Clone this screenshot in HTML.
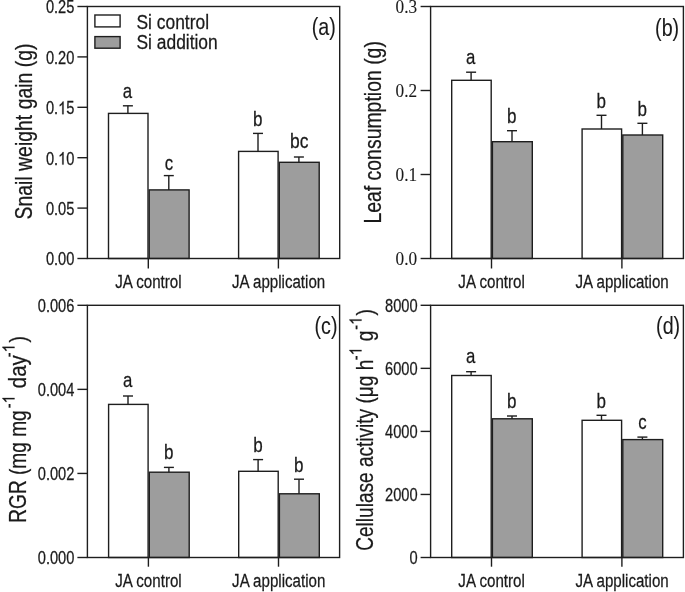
<!DOCTYPE html>
<html><head><meta charset="utf-8"><style>
html,body{margin:0;padding:0;background:#fff;overflow:hidden}
svg{display:block;filter:blur(0.3px)}
text{stroke:#1a1a1a;stroke-width:0.25px}
.g1{fill:#1a1a1a;stroke:#1a1a1a;stroke-width:0.25px;vector-effect:non-scaling-stroke}
text{fill:#1a1a1a}
</style></head><body>
<svg width="685" height="592" viewBox="0 0 685 592">
<rect width="685" height="592" fill="#fff"/>
<rect x="108.50" y="113.40" width="39.50" height="145.10" fill="white" stroke="#1e1e1e" stroke-width="1.4"/>
<line x1="127.90" y1="113.40" x2="127.90" y2="105.80" stroke="#1e1e1e" stroke-width="1.4"/>
<line x1="122.90" y1="105.80" x2="132.90" y2="105.80" stroke="#1e1e1e" stroke-width="1.4"/>
<text transform="translate(127.50,97.60) scale(0.82,1)" font-family='"Liberation Sans", sans-serif' font-size="20.5" text-anchor="middle">a</text>
<rect x="149.20" y="189.90" width="39.90" height="68.60" fill="#9d9d9d" stroke="#1e1e1e" stroke-width="1.4"/>
<line x1="168.80" y1="189.90" x2="168.80" y2="175.60" stroke="#1e1e1e" stroke-width="1.4"/>
<line x1="163.80" y1="175.60" x2="173.80" y2="175.60" stroke="#1e1e1e" stroke-width="1.4"/>
<text transform="translate(168.90,169.60) scale(0.82,1)" font-family='"Liberation Sans", sans-serif' font-size="20.5" text-anchor="middle">c</text>
<rect x="238.60" y="151.40" width="39.50" height="107.10" fill="white" stroke="#1e1e1e" stroke-width="1.4"/>
<line x1="258.00" y1="151.40" x2="258.00" y2="133.40" stroke="#1e1e1e" stroke-width="1.4"/>
<line x1="253.00" y1="133.40" x2="263.00" y2="133.40" stroke="#1e1e1e" stroke-width="1.4"/>
<text transform="translate(257.80,125.80) scale(0.82,1)" font-family='"Liberation Sans", sans-serif' font-size="20.8" text-anchor="middle">b</text>
<rect x="279.30" y="162.30" width="39.90" height="96.20" fill="#9d9d9d" stroke="#1e1e1e" stroke-width="1.4"/>
<line x1="298.90" y1="162.30" x2="298.90" y2="157.00" stroke="#1e1e1e" stroke-width="1.4"/>
<line x1="293.90" y1="157.00" x2="303.90" y2="157.00" stroke="#1e1e1e" stroke-width="1.4"/>
<text transform="translate(299.20,148.00) scale(0.86,1)" font-family='"Liberation Sans", sans-serif' font-size="20.3" text-anchor="middle">bc</text>
<rect x="87.40" y="6.50" width="252.30" height="252.00" fill="none" stroke="#1e1e1e" stroke-width="1.4"/>
<line x1="77.40" y1="258.50" x2="87.40" y2="258.50" stroke="#1e1e1e" stroke-width="1.4"/>
<text transform="translate(74.40,265.40) scale(0.8,1)" font-family='"Liberation Sans", sans-serif' font-size="18.3" text-anchor="end">0.00</text>
<line x1="77.40" y1="208.10" x2="87.40" y2="208.10" stroke="#1e1e1e" stroke-width="1.4"/>
<text transform="translate(74.40,215.00) scale(0.8,1)" font-family='"Liberation Sans", sans-serif' font-size="18.3" text-anchor="end">0.05</text>
<line x1="77.40" y1="157.70" x2="87.40" y2="157.70" stroke="#1e1e1e" stroke-width="1.4"/>
<text transform="translate(74.40,164.60) scale(0.8,1)" font-family='"Liberation Sans", sans-serif' font-size="18.3" text-anchor="end">0. 0</text>
<path transform="translate(74.40,164.60) scale(0.8,1) translate(-20.355,0) scale(0.00894,-0.00894)" d="M763 0H583V1102Q518 1043 412 983Q307 924 223 894V1061Q374 1129 487 1226Q600 1323 647 1409H763Z" class="g1"/>
<line x1="77.40" y1="107.30" x2="87.40" y2="107.30" stroke="#1e1e1e" stroke-width="1.4"/>
<text transform="translate(74.40,114.20) scale(0.8,1)" font-family='"Liberation Sans", sans-serif' font-size="18.3" text-anchor="end">0. 5</text>
<path transform="translate(74.40,114.20) scale(0.8,1) translate(-20.355,0) scale(0.00894,-0.00894)" d="M763 0H583V1102Q518 1043 412 983Q307 924 223 894V1061Q374 1129 487 1226Q600 1323 647 1409H763Z" class="g1"/>
<line x1="77.40" y1="56.90" x2="87.40" y2="56.90" stroke="#1e1e1e" stroke-width="1.4"/>
<text transform="translate(74.40,63.80) scale(0.8,1)" font-family='"Liberation Sans", sans-serif' font-size="18.3" text-anchor="end">0.20</text>
<line x1="77.40" y1="6.50" x2="87.40" y2="6.50" stroke="#1e1e1e" stroke-width="1.4"/>
<text transform="translate(74.40,13.40) scale(0.8,1)" font-family='"Liberation Sans", sans-serif' font-size="18.3" text-anchor="end">0.25</text>
<line x1="148.30" y1="258.50" x2="148.30" y2="268.50" stroke="#1e1e1e" stroke-width="1.4"/>
<line x1="278.40" y1="258.50" x2="278.40" y2="268.50" stroke="#1e1e1e" stroke-width="1.4"/>
<text transform="translate(148.40,288.10) scale(0.851,1)" font-family='"Liberation Sans", sans-serif' font-size="17.8" text-anchor="middle">JA control</text>
<text transform="translate(278.60,288.10) scale(0.849,1)" font-family='"Liberation Sans", sans-serif' font-size="17.8" text-anchor="middle">JA application</text>
<text transform="translate(311.70,34.60) scale(0.82,1)" font-family='"Liberation Sans", sans-serif' font-size="24" text-anchor="start" style="stroke-width:0.1px">(a)</text>
<rect x="451.70" y="80.30" width="39.50" height="178.20" fill="white" stroke="#1e1e1e" stroke-width="1.4"/>
<line x1="471.10" y1="80.30" x2="471.10" y2="72.20" stroke="#1e1e1e" stroke-width="1.4"/>
<line x1="466.10" y1="72.20" x2="476.10" y2="72.20" stroke="#1e1e1e" stroke-width="1.4"/>
<text transform="translate(470.70,63.70) scale(0.82,1)" font-family='"Liberation Sans", sans-serif' font-size="20.5" text-anchor="middle">a</text>
<rect x="492.40" y="141.70" width="39.90" height="116.80" fill="#9d9d9d" stroke="#1e1e1e" stroke-width="1.4"/>
<line x1="512.00" y1="141.70" x2="512.00" y2="130.70" stroke="#1e1e1e" stroke-width="1.4"/>
<line x1="507.00" y1="130.70" x2="517.00" y2="130.70" stroke="#1e1e1e" stroke-width="1.4"/>
<text transform="translate(511.80,122.60) scale(0.82,1)" font-family='"Liberation Sans", sans-serif' font-size="20.8" text-anchor="middle">b</text>
<rect x="582.10" y="129.00" width="39.50" height="129.50" fill="white" stroke="#1e1e1e" stroke-width="1.4"/>
<line x1="601.50" y1="129.00" x2="601.50" y2="115.30" stroke="#1e1e1e" stroke-width="1.4"/>
<line x1="596.50" y1="115.30" x2="606.50" y2="115.30" stroke="#1e1e1e" stroke-width="1.4"/>
<text transform="translate(601.30,107.60) scale(0.82,1)" font-family='"Liberation Sans", sans-serif' font-size="20.8" text-anchor="middle">b</text>
<rect x="622.80" y="135.00" width="39.90" height="123.50" fill="#9d9d9d" stroke="#1e1e1e" stroke-width="1.4"/>
<line x1="642.40" y1="135.00" x2="642.40" y2="123.30" stroke="#1e1e1e" stroke-width="1.4"/>
<line x1="637.40" y1="123.30" x2="647.40" y2="123.30" stroke="#1e1e1e" stroke-width="1.4"/>
<text transform="translate(642.20,116.00) scale(0.82,1)" font-family='"Liberation Sans", sans-serif' font-size="20.8" text-anchor="middle">b</text>
<rect x="430.60" y="6.50" width="252.80" height="252.00" fill="none" stroke="#1e1e1e" stroke-width="1.4"/>
<line x1="420.60" y1="258.50" x2="430.60" y2="258.50" stroke="#1e1e1e" stroke-width="1.4"/>
<text transform="translate(417.10,264.90) scale(0.96,1)" font-family='"Liberation Serif", serif' font-size="18.0" text-anchor="end" style="stroke-width:0.1px">0.0</text>
<line x1="420.60" y1="174.50" x2="430.60" y2="174.50" stroke="#1e1e1e" stroke-width="1.4"/>
<text transform="translate(417.10,180.90) scale(0.96,1)" font-family='"Liberation Serif", serif' font-size="18.0" text-anchor="end" style="stroke-width:0.1px">0.1</text>
<line x1="420.60" y1="90.50" x2="430.60" y2="90.50" stroke="#1e1e1e" stroke-width="1.4"/>
<text transform="translate(417.10,96.90) scale(0.96,1)" font-family='"Liberation Serif", serif' font-size="18.0" text-anchor="end" style="stroke-width:0.1px">0.2</text>
<line x1="420.60" y1="6.50" x2="430.60" y2="6.50" stroke="#1e1e1e" stroke-width="1.4"/>
<text transform="translate(417.10,12.90) scale(0.96,1)" font-family='"Liberation Serif", serif' font-size="18.0" text-anchor="end" style="stroke-width:0.1px">0.3</text>
<line x1="491.50" y1="258.50" x2="491.50" y2="268.50" stroke="#1e1e1e" stroke-width="1.4"/>
<line x1="621.90" y1="258.50" x2="621.90" y2="268.50" stroke="#1e1e1e" stroke-width="1.4"/>
<text transform="translate(491.60,288.10) scale(0.851,1)" font-family='"Liberation Sans", sans-serif' font-size="17.8" text-anchor="middle">JA control</text>
<text transform="translate(622.10,288.10) scale(0.849,1)" font-family='"Liberation Sans", sans-serif' font-size="17.8" text-anchor="middle">JA application</text>
<text transform="translate(655.10,35.80) scale(0.82,1)" font-family='"Liberation Sans", sans-serif' font-size="24" text-anchor="start" style="stroke-width:0.1px">(b)</text>
<rect x="108.60" y="404.40" width="39.50" height="153.10" fill="white" stroke="#1e1e1e" stroke-width="1.4"/>
<line x1="128.00" y1="404.40" x2="128.00" y2="396.00" stroke="#1e1e1e" stroke-width="1.4"/>
<line x1="123.00" y1="396.00" x2="133.00" y2="396.00" stroke="#1e1e1e" stroke-width="1.4"/>
<text transform="translate(127.60,387.10) scale(0.82,1)" font-family='"Liberation Sans", sans-serif' font-size="20.5" text-anchor="middle">a</text>
<rect x="149.30" y="472.20" width="39.90" height="85.30" fill="#9d9d9d" stroke="#1e1e1e" stroke-width="1.4"/>
<line x1="168.90" y1="472.20" x2="168.90" y2="467.40" stroke="#1e1e1e" stroke-width="1.4"/>
<line x1="163.90" y1="467.40" x2="173.90" y2="467.40" stroke="#1e1e1e" stroke-width="1.4"/>
<text transform="translate(168.70,459.20) scale(0.82,1)" font-family='"Liberation Sans", sans-serif' font-size="20.8" text-anchor="middle">b</text>
<rect x="238.70" y="471.30" width="39.50" height="86.20" fill="white" stroke="#1e1e1e" stroke-width="1.4"/>
<line x1="258.10" y1="471.30" x2="258.10" y2="459.60" stroke="#1e1e1e" stroke-width="1.4"/>
<line x1="253.10" y1="459.60" x2="263.10" y2="459.60" stroke="#1e1e1e" stroke-width="1.4"/>
<text transform="translate(257.90,452.30) scale(0.82,1)" font-family='"Liberation Sans", sans-serif' font-size="20.8" text-anchor="middle">b</text>
<rect x="279.40" y="493.80" width="39.90" height="63.70" fill="#9d9d9d" stroke="#1e1e1e" stroke-width="1.4"/>
<line x1="299.00" y1="493.80" x2="299.00" y2="479.20" stroke="#1e1e1e" stroke-width="1.4"/>
<line x1="294.00" y1="479.20" x2="304.00" y2="479.20" stroke="#1e1e1e" stroke-width="1.4"/>
<text transform="translate(298.80,471.60) scale(0.82,1)" font-family='"Liberation Sans", sans-serif' font-size="20.8" text-anchor="middle">b</text>
<rect x="87.40" y="305.30" width="252.20" height="252.20" fill="none" stroke="#1e1e1e" stroke-width="1.4"/>
<line x1="77.40" y1="557.50" x2="87.40" y2="557.50" stroke="#1e1e1e" stroke-width="1.4"/>
<text transform="translate(74.40,564.40) scale(0.8,1)" font-family='"Liberation Sans", sans-serif' font-size="18.3" text-anchor="end">0.000</text>
<line x1="77.40" y1="473.43" x2="87.40" y2="473.43" stroke="#1e1e1e" stroke-width="1.4"/>
<text transform="translate(74.40,480.33) scale(0.8,1)" font-family='"Liberation Sans", sans-serif' font-size="18.3" text-anchor="end">0.002</text>
<line x1="77.40" y1="389.37" x2="87.40" y2="389.37" stroke="#1e1e1e" stroke-width="1.4"/>
<text transform="translate(74.40,396.27) scale(0.8,1)" font-family='"Liberation Sans", sans-serif' font-size="18.3" text-anchor="end">0.004</text>
<line x1="77.40" y1="305.30" x2="87.40" y2="305.30" stroke="#1e1e1e" stroke-width="1.4"/>
<text transform="translate(74.40,312.20) scale(0.8,1)" font-family='"Liberation Sans", sans-serif' font-size="18.3" text-anchor="end">0.006</text>
<line x1="148.40" y1="557.50" x2="148.40" y2="566.70" stroke="#1e1e1e" stroke-width="1.4"/>
<line x1="278.50" y1="557.50" x2="278.50" y2="566.70" stroke="#1e1e1e" stroke-width="1.4"/>
<text transform="translate(148.50,587.10) scale(0.851,1)" font-family='"Liberation Sans", sans-serif' font-size="17.8" text-anchor="middle">JA control</text>
<text transform="translate(278.70,587.10) scale(0.849,1)" font-family='"Liberation Sans", sans-serif' font-size="17.8" text-anchor="middle">JA application</text>
<text transform="translate(314.50,333.80) scale(0.82,1)" font-family='"Liberation Sans", sans-serif' font-size="24" text-anchor="start" style="stroke-width:0.1px">(c)</text>
<rect x="451.70" y="375.50" width="39.50" height="182.00" fill="white" stroke="#1e1e1e" stroke-width="1.4"/>
<line x1="471.10" y1="375.50" x2="471.10" y2="371.70" stroke="#1e1e1e" stroke-width="1.4"/>
<line x1="466.10" y1="371.70" x2="476.10" y2="371.70" stroke="#1e1e1e" stroke-width="1.4"/>
<text transform="translate(470.70,362.50) scale(0.82,1)" font-family='"Liberation Sans", sans-serif' font-size="20.5" text-anchor="middle">a</text>
<rect x="492.40" y="418.80" width="39.90" height="138.70" fill="#9d9d9d" stroke="#1e1e1e" stroke-width="1.4"/>
<line x1="512.00" y1="418.80" x2="512.00" y2="416.00" stroke="#1e1e1e" stroke-width="1.4"/>
<line x1="507.00" y1="416.00" x2="517.00" y2="416.00" stroke="#1e1e1e" stroke-width="1.4"/>
<text transform="translate(511.80,408.00) scale(0.82,1)" font-family='"Liberation Sans", sans-serif' font-size="20.8" text-anchor="middle">b</text>
<rect x="582.10" y="420.30" width="39.50" height="137.20" fill="white" stroke="#1e1e1e" stroke-width="1.4"/>
<line x1="601.50" y1="420.30" x2="601.50" y2="415.30" stroke="#1e1e1e" stroke-width="1.4"/>
<line x1="596.50" y1="415.30" x2="606.50" y2="415.30" stroke="#1e1e1e" stroke-width="1.4"/>
<text transform="translate(601.30,408.10) scale(0.82,1)" font-family='"Liberation Sans", sans-serif' font-size="20.8" text-anchor="middle">b</text>
<rect x="622.80" y="439.60" width="39.90" height="117.90" fill="#9d9d9d" stroke="#1e1e1e" stroke-width="1.4"/>
<line x1="642.40" y1="439.60" x2="642.40" y2="437.10" stroke="#1e1e1e" stroke-width="1.4"/>
<line x1="637.40" y1="437.10" x2="647.40" y2="437.10" stroke="#1e1e1e" stroke-width="1.4"/>
<text transform="translate(642.50,428.60) scale(0.82,1)" font-family='"Liberation Sans", sans-serif' font-size="20.5" text-anchor="middle">c</text>
<rect x="430.60" y="305.30" width="252.80" height="252.20" fill="none" stroke="#1e1e1e" stroke-width="1.4"/>
<line x1="420.60" y1="557.50" x2="430.60" y2="557.50" stroke="#1e1e1e" stroke-width="1.4"/>
<text transform="translate(417.60,564.40) scale(0.8,1)" font-family='"Liberation Sans", sans-serif' font-size="18.3" text-anchor="end">0</text>
<line x1="420.60" y1="494.45" x2="430.60" y2="494.45" stroke="#1e1e1e" stroke-width="1.4"/>
<text transform="translate(417.60,501.35) scale(0.8,1)" font-family='"Liberation Sans", sans-serif' font-size="18.3" text-anchor="end">2000</text>
<line x1="420.60" y1="431.40" x2="430.60" y2="431.40" stroke="#1e1e1e" stroke-width="1.4"/>
<text transform="translate(417.60,438.30) scale(0.8,1)" font-family='"Liberation Sans", sans-serif' font-size="18.3" text-anchor="end">4000</text>
<line x1="420.60" y1="368.35" x2="430.60" y2="368.35" stroke="#1e1e1e" stroke-width="1.4"/>
<text transform="translate(417.60,375.25) scale(0.8,1)" font-family='"Liberation Sans", sans-serif' font-size="18.3" text-anchor="end">6000</text>
<line x1="420.60" y1="305.30" x2="430.60" y2="305.30" stroke="#1e1e1e" stroke-width="1.4"/>
<text transform="translate(417.60,312.20) scale(0.8,1)" font-family='"Liberation Sans", sans-serif' font-size="18.3" text-anchor="end">8000</text>
<line x1="491.50" y1="557.50" x2="491.50" y2="566.70" stroke="#1e1e1e" stroke-width="1.4"/>
<line x1="621.90" y1="557.50" x2="621.90" y2="566.70" stroke="#1e1e1e" stroke-width="1.4"/>
<text transform="translate(491.60,587.10) scale(0.851,1)" font-family='"Liberation Sans", sans-serif' font-size="17.8" text-anchor="middle">JA control</text>
<text transform="translate(622.10,587.10) scale(0.849,1)" font-family='"Liberation Sans", sans-serif' font-size="17.8" text-anchor="middle">JA application</text>
<text transform="translate(656.10,333.80) scale(0.82,1)" font-family='"Liberation Sans", sans-serif' font-size="24" text-anchor="start" style="stroke-width:0.1px">(d)</text>
<rect x="94.9" y="15.0" width="25.2" height="11.9" fill="white" stroke="#1e1e1e" stroke-width="1.4"/>
<rect x="94.9" y="36.6" width="25.2" height="11.6" fill="#9d9d9d" stroke="#1e1e1e" stroke-width="1.4"/>
<text transform="translate(136.50,28.80) scale(0.87,1)" font-family='"Liberation Sans", sans-serif' font-size="20.0" text-anchor="start">Si control</text>
<text transform="translate(136.50,49.20) scale(0.87,1)" font-family='"Liberation Sans", sans-serif' font-size="20.0" text-anchor="start">Si addition</text>
<text transform="translate(32.00,219.50) rotate(-90) scale(0.845,1)" font-family='"Liberation Sans", sans-serif' font-size="23" text-anchor="start">Snail weight gain (g)</text>
<text transform="translate(381.20,223.60) rotate(-90) scale(0.845,1)" font-family='"Liberation Sans", sans-serif' font-size="23" text-anchor="start">Leaf consumption (g)</text>
<text transform="translate(25.80,522.70) rotate(-90) scale(0.83,1)" font-family='"Liberation Sans", sans-serif' font-size="23" text-anchor="start">RGR (mg mg</text>
<text transform="translate(14.50,408.30) rotate(-90) scale(0.84,1)" font-family='"Liberation Sans", sans-serif' font-size="17.5" text-anchor="start">- </text>
<path transform="translate(14.50,408.30) rotate(-90) scale(0.84,1) translate(5.828,0) scale(0.00854,-0.00854)" d="M763 0H583V1102Q518 1043 412 983Q307 924 223 894V1061Q374 1129 487 1226Q600 1323 647 1409H763Z" class="g1"/>
<text transform="translate(25.80,388.20) rotate(-90) scale(0.89,1)" font-family='"Liberation Sans", sans-serif' font-size="23" text-anchor="start">day</text>
<text transform="translate(14.50,357.20) rotate(-90) scale(0.84,1)" font-family='"Liberation Sans", sans-serif' font-size="17.5" text-anchor="start">- </text>
<path transform="translate(14.50,357.20) rotate(-90) scale(0.84,1) translate(5.828,0) scale(0.00854,-0.00854)" d="M763 0H583V1102Q518 1043 412 983Q307 924 223 894V1061Q374 1129 487 1226Q600 1323 647 1409H763Z" class="g1"/>
<text transform="translate(25.80,342.60) rotate(-90) scale(0.83,1)" font-family='"Liberation Sans", sans-serif' font-size="23" text-anchor="start">)</text>
<text transform="translate(372.80,550.75) rotate(-90) scale(0.829,1)" font-family='"Liberation Sans", sans-serif' font-size="23" text-anchor="start">Cellulase activity (μg h</text>
<text transform="translate(361.50,360.30) rotate(-90) scale(0.84,1)" font-family='"Liberation Sans", sans-serif' font-size="17.5" text-anchor="start">- </text>
<path transform="translate(361.50,360.30) rotate(-90) scale(0.84,1) translate(5.828,0) scale(0.00854,-0.00854)" d="M763 0H583V1102Q518 1043 412 983Q307 924 223 894V1061Q374 1129 487 1226Q600 1323 647 1409H763Z" class="g1"/>
<text transform="translate(372.80,341.30) rotate(-90) scale(0.83,1)" font-family='"Liberation Sans", sans-serif' font-size="23" text-anchor="start">g</text>
<text transform="translate(361.50,329.80) rotate(-90) scale(0.84,1)" font-family='"Liberation Sans", sans-serif' font-size="17.5" text-anchor="start">- </text>
<path transform="translate(361.50,329.80) rotate(-90) scale(0.84,1) translate(5.828,0) scale(0.00854,-0.00854)" d="M763 0H583V1102Q518 1043 412 983Q307 924 223 894V1061Q374 1129 487 1226Q600 1323 647 1409H763Z" class="g1"/>
<text transform="translate(372.80,315.60) rotate(-90) scale(0.83,1)" font-family='"Liberation Sans", sans-serif' font-size="23" text-anchor="start">)</text>
</svg>
</body></html>
